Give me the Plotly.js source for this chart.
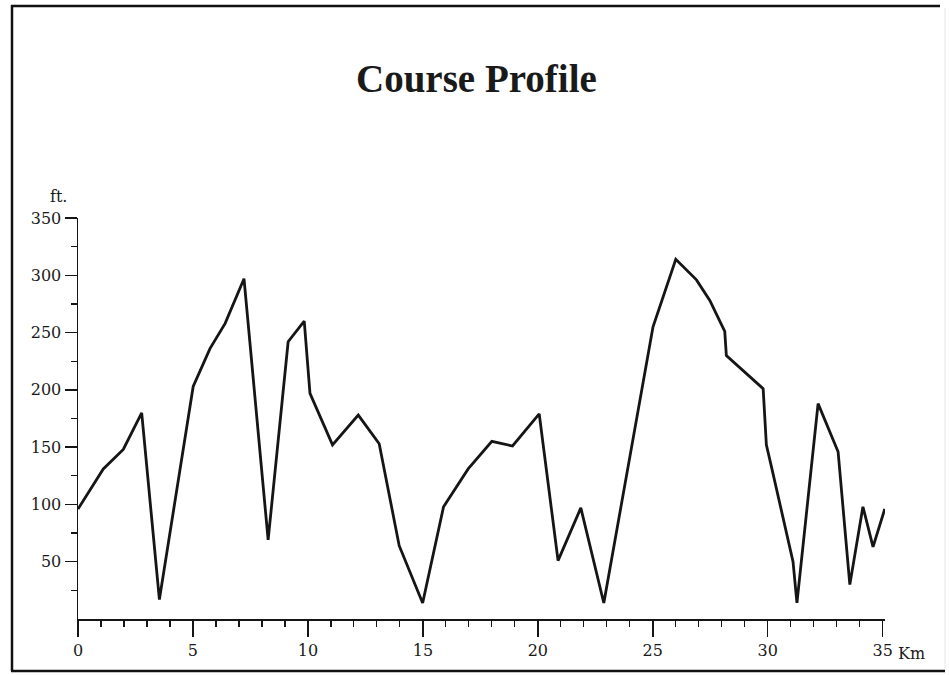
<!DOCTYPE html>
<html>
<head>
<meta charset="utf-8">
<script src="https://cdn.plot.ly/plotly-3.0.1.min.js"></script>
<style>
html,body{margin:0;padding:0;background:#fff;}
#chart{width:949px;height:675px;}
</style>
</head>
<body>
<div id="chart"></div>
<script>
// Distance along course (km)
var distanceKm = [0, 1.1, 1.97, 2.77, 3.54, 5.01, 5.74, 6.4, 7.22, 8.27, 9.14, 9.84, 10.09, 11.07, 12.19, 13.1, 13.97, 14.99, 15.9, 16.97, 18.0, 18.9, 20.06, 20.88, 21.87, 22.87, 25.01, 26.0, 26.9, 27.48, 28.13, 28.2, 29.8, 29.94, 30.16, 31.1, 31.27, 32.19, 33.06, 33.57, 34.14, 34.58, 35.09];
// Elevation (ft)
var elevationFt = [96, 131, 148, 180, 17, 203, 236, 258, 297, 69, 242, 260, 197, 152, 178, 153, 64, 14, 98, 131, 155, 151, 179, 51, 97, 14, 255, 314, 296, 278, 251, 230, 201, 152, 133, 50, 14, 188, 146, 30, 98, 63, 96];
var xTickVals = [0, 5, 10, 15, 20, 25, 30, 35];
var xTickText = ['0', '5', '10', '15', '20', '25', '30', '35'];
var yTickVals = [50, 100, 150, 200, 250, 300, 350];
var yTickText = ['50', '100', '150', '200', '250', '300', '350'];

var W = 949, H = 675;
var M = {l: 78, r: 64, t: 218, b: 56};
var pw = W - M.l - M.r, ph = H - M.t - M.b;
function px2x(px){ return (px - M.l) / pw; }
function py2y(py){ return (H - M.b - py) / ph; }

var tickFam = '"DejaVu Serif", "Liberation Serif", serif';
var titleFam = '"Liberation Serif", "DejaVu Serif", serif';
var ink = '#151515';

var trace = {
  x: distanceKm,
  y: elevationFt,
  type: 'scatter',
  mode: 'lines',
  line: {color: ink, width: 2.8},
  hoverinfo: 'skip'
};

var layout = {
  width: W, height: H,
  margin: M,
  paper_bgcolor: '#ffffff',
  plot_bgcolor: '#ffffff',
  showlegend: false,
  title: {
    text: 'Course Profile',
    font: {family: titleFam, size: 39, color: '#1a1a1a', weight: 'bold'},
    x: 0.502, xanchor: 'center', xref: 'container',
    y: (H - 78) / H, yanchor: 'middle', yref: 'container'
  },
  xaxis: {
    range: [0, 35.1],
    showgrid: false, zeroline: false,
    showline: true, linecolor: ink, linewidth: 1.5,
    ticks: 'outside', ticklen: 16, tickwidth: 1.5, tickcolor: ink,
    tickvals: xTickVals, ticktext: xTickText,
    tickfont: {family: tickFam, size: 16, color: '#1a1a1a'},
    minor: {ticks: 'outside', ticklen: 6, tickwidth: 1.2, tickcolor: ink, dtick: 1, tick0: 0, showgrid: false},
    fixedrange: true
  },
  yaxis: {
    range: [0, 350],
    showgrid: false, zeroline: false,
    showline: true, linecolor: ink, linewidth: 1.5,
    ticks: 'outside', ticklen: 12, tickwidth: 1.5, tickcolor: ink,
    tickvals: yTickVals, ticktext: yTickText,
    tickfont: {family: tickFam, size: 16, color: '#1a1a1a'},
    minor: {ticks: 'outside', ticklen: 6, tickwidth: 1.2, tickcolor: ink, dtick: 50, tick0: 25, showgrid: false},
    fixedrange: true
  },
  annotations: [
    {text: 'ft.', xref: 'paper', yref: 'paper', x: px2x(58), y: py2y(196),
     xanchor: 'center', yanchor: 'middle', showarrow: false,
     font: {family: tickFam, size: 16, color: '#1a1a1a'}},
    {text: 'Km', xref: 'paper', yref: 'paper', x: px2x(896), y: py2y(653),
     xanchor: 'left', yanchor: 'middle', showarrow: false,
     font: {family: tickFam, size: 16, color: '#1a1a1a'}}
  ],
  shapes: [
    // page frame
    {type: 'line', xref: 'paper', yref: 'paper', x0: px2x(12), x1: px2x(12), y0: py2y(5), y1: py2y(671), line: {color: '#111', width: 2.5}},
    {type: 'line', xref: 'paper', yref: 'paper', x0: px2x(11), x1: px2x(940), y0: py2y(6), y1: py2y(6), line: {color: '#111', width: 2.5}},
    {type: 'line', xref: 'paper', yref: 'paper', x0: px2x(11), x1: px2x(945), y0: py2y(671), y1: py2y(671), line: {color: '#111', width: 2.5}},
    {type: 'line', xref: 'paper', yref: 'paper', x0: px2x(945), x1: px2x(945), y0: py2y(8), y1: py2y(669), line: {color: '#e6e6e6', width: 1}}
  ]
};

Plotly.newPlot('chart', [trace], layout, {displayModeBar: false, staticPlot: true});
</script>
</body>
</html>
